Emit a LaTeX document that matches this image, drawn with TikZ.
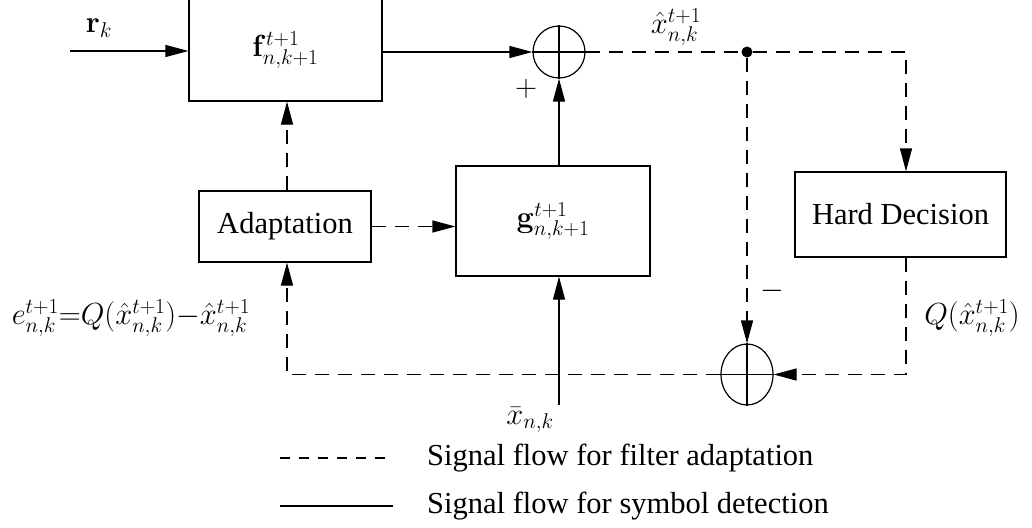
\documentclass[tikz,border=0pt]{standalone}
\usepackage{fix-cm}
\usepackage[no-math]{fontspec}
\setmainfont{Liberation Serif}
\usetikzlibrary{arrows.meta,shapes.geometric}
\tikzset{
  ln/.style={line width=1.2pt},
  sol/.style={ln},
  dsh/.style={ln,dash pattern=on 14pt off 9pt},
  arr/.style={-{Triangle[length=23pt,width=12pt]}},
  blk/.style={draw,line width=1.2pt,rectangle,inner sep=0pt,font=\fontsize{30.5}{36}\selectfont},
  sumc/.style={draw,line width=1.2pt,circle,inner sep=0pt,minimum size=52pt},
  sume/.style={draw,line width=1.2pt,ellipse,inner sep=0pt,minimum width=52pt,minimum height=61pt},
  lbl/.style={inner sep=0pt,font=\fontsize{30.5}{36}\selectfont},
}
\begin{document}
\begin{tikzpicture}[x=1pt,y=-1pt]
\clip (0,0) rectangle (1032,527);
\fill[white] (0,0) rectangle (1032,527);
% blocks
\node[blk,minimum width=193pt,minimum height=102pt] (f) at (285.5,50) {$\mathbf{f}^{t+1}_{n,k+1}$};
\node[blk,minimum width=172pt,minimum height=71pt] (ad) at (285,226.5) {Adaptation};
\node[blk,minimum width=194pt,minimum height=110pt] (g) at (553,221) {$\mathbf{g}^{t+1}_{n,k+1}$};
\node[blk,minimum width=211pt,minimum height=85pt] (hd) at (900.5,214.5) {Hard Decision};
\node[sumc] (s1) at (559,52) {};
\node[sume] (s2) at (747,374.5) {};
\draw[sol] (s1.north) -- (s1.south) (s1.west) -- (s1.east);
\draw[sol] (s2.north) -- (s2.south) (s2.west) -- (s2.east);
\node[circle,fill,inner sep=0pt,minimum size=11pt] (dot) at (747,52) {};
% coordinates
\coordinate (rin) at (70,51);
\coordinate (xb) at (559,405);
\coordinate (c1) at (906,52);
\coordinate (c2) at (906,374.5);
\coordinate (c3) at (287,374.5);
% solid connectors
\draw[sol,arr] (rin) -- (f.west |- rin);
\draw[sol,arr] (f.east |- s1) -- (s1.west);
\draw[sol,arr] (g.north -| s1) -- (s1.south);
\draw[sol,arr] (xb) -- (g.south -| xb);
% dashed connectors
\draw[dsh] (s1.east) -- (dot);
\draw[dsh,arr] (dot) -- (c1) -- (hd.north -| c1);
\draw[dsh,arr] (dot) -- (s2.north);
\draw[dsh,arr] (hd.south -| c2) -- (c2) -- (s2.east);
\draw[dsh,arr] (s2.west) -- (c3) -- (ad.south -| c3);
\draw[dsh,arr] (ad.north -| c3) -- (f.south -| c3);
\draw[dsh,arr] (ad.east) -- (g.west |- ad.east);
% labels
\node[lbl] (lr) at (99,28) {$\mathbf{r}_k$};
\node[lbl] (lx) at (676,27) {$\hat{x}^{t+1}_{n,k}$};
\node[lbl] (lp) at (526,89) {$+$};
\node[lbl] (lm) at (772,291) {$-$};
\node[lbl] (lq) at (972,318) {$Q(\hat{x}^{t+1}_{n,k})$};
\node[lbl] (lxb) at (530,420) {$\bar{x}_{n,k}$};
\node[lbl] (le) at (131,318) {$e^{t+1}_{n,k}{=}Q(\hat{x}^{t+1}_{n,k}){-}\hat{x}^{t+1}_{n,k}$};
% legend
\coordinate (la1) at (280,458);
\coordinate (la2) at (393,458);
\coordinate (lb1) at (280,506);
\coordinate (lb2) at (393,506);
\draw[ln,dash pattern=on 10pt off 9pt] (la1) -- (la2);
\draw[ln] (lb1) -- (lb2);
\node[lbl,anchor=west] (lt1) at (427,458) {Signal flow for filter adaptation};
\node[lbl,anchor=west] (lt2) at (427,506) {Signal flow for symbol detection};
\end{tikzpicture}
\end{document}
